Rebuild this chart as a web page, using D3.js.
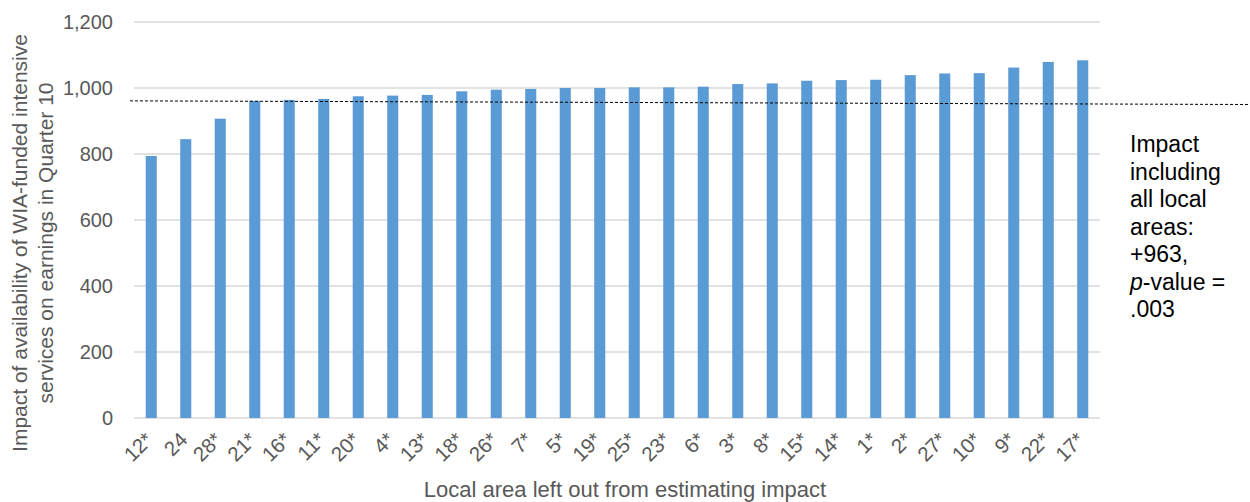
<!DOCTYPE html>
<html>
<head>
<meta charset="utf-8">
<script src="https://cdn.jsdelivr.net/npm/d3@7"></script>
<style>
  html, body { margin: 0; padding: 0; background: #fff; }
  svg { display: block; }
  text { font-family: "Liberation Sans", Arial, sans-serif; }
</style>
</head>
<body>
<svg id="chart" width="1250" height="502"></svg>
<script>
// ---- data ----
const categories = ["12*","24","28*","21*","16*","11*","20*","4*","13*","18*","26*","7*","5*","19*","25*","23*","6*","3*","8*","15*","14*","1*","2*","27*","10*","9*","22*","17*"];
const impacts = [794,845,907,961,964,967,975,977,979,990,995,997,1000,1000,1002,1002,1004,1012,1014,1022,1024,1025,1039,1044,1045,1062,1079,1084];
const yTicks = [0,200,400,600,800,1000,1200];
const referenceValues = [961, 950]; // dashed line: left end, right end (as drawn)
const annotationLines = ["Impact","including","all local","areas:","+963,","p-value =",".003"];
const yTitleLines = ["Impact of availability of WIA-funded intensive","services on earnings in Quarter 10"];
const xTitle = "Local area left out from estimating impact";

// ---- layout ----
const svg = d3.select("#chart");
const margin = {left: 134, right: 150, top: 22, bottom: 84};
const W = 1250, H = 502;
const x = d3.scaleBand().domain(categories).range([margin.left, W - margin.right]).paddingInner(0.68).paddingOuter(0.34);
const y = d3.scaleLinear().domain([0, 1200]).range([H - margin.bottom, margin.top]);

// gridlines
svg.append("g").selectAll("line").data(yTicks).join("line")
  .attr("x1", margin.left).attr("x2", W - margin.right)
  .attr("y1", d => y(d)).attr("y2", d => y(d))
  .attr("stroke", "#d9d9d9").attr("stroke-width", 1.3);

// y tick labels
const yAxis = d3.axisLeft(y).tickValues(yTicks).tickFormat(d3.format(",")).tickSize(0).tickPadding(0);
const ya = svg.append("g").attr("transform", `translate(${113},0)`).call(yAxis);
ya.select(".domain").remove();
ya.selectAll("text").attr("font-size", 20).attr("fill", "#595959")
  .style("font-family", '"Liberation Sans", Arial, sans-serif');

// bars
svg.append("g").selectAll("rect").data(impacts).join("rect")
  .attr("x", (d, i) => x(categories[i]))
  .attr("width", x.bandwidth())
  .attr("y", d => y(d))
  .attr("height", d => y(0) - y(d))
  .attr("fill", "#5b9bd5");

// x tick labels
const xAxis = d3.axisBottom(x).tickSize(0).tickPadding(0);
const xa = svg.append("g").attr("transform", `translate(0,${y(0)})`).call(xAxis);
xa.select(".domain").remove();
xa.selectAll("text")
  .attr("font-size", 20.5).attr("fill", "#595959")
  .style("font-family", '"Liberation Sans", Arial, sans-serif')
  .attr("text-anchor", "end")
  .attr("dy", null).attr("y", 0)
  .attr("transform", "translate(3,23) rotate(-45)");

// dashed reference line
svg.append("line")
  .attr("x1", 130).attr("x2", W)
  .attr("y1", y(referenceValues[0])).attr("y2", y(referenceValues[1]))
  .attr("stroke", "#000").attr("stroke-width", 1).attr("stroke-dasharray", "3,2");

// annotation
const ann = svg.append("text").attr("x", 1130).attr("y", 152).attr("font-size", 23).attr("fill", "#000");
annotationLines.forEach((t, i) => {
  const ts = ann.append("tspan").attr("x", 1130).attr("y", 152 + i * 27.5);
  if (t.startsWith("p-")) {
    ts.append("tspan").attr("font-style", "italic").text("p");
    ts.append("tspan").text(t.slice(1));
  } else ts.text(t);
});

// y title
const yt = svg.append("text").attr("transform", "rotate(-90)")
  .attr("font-size", 21).attr("fill", "#595959").attr("text-anchor", "middle");
yTitleLines.forEach((t, i) => {
  yt.append("tspan").attr("x", -243).attr("y", 27 + i * 26).text(t);
});

// x title
svg.append("text").attr("x", 625).attr("y", 497)
  .attr("font-size", 22).attr("fill", "#595959").attr("text-anchor", "middle").text(xTitle);
</script>
</body>
</html>
